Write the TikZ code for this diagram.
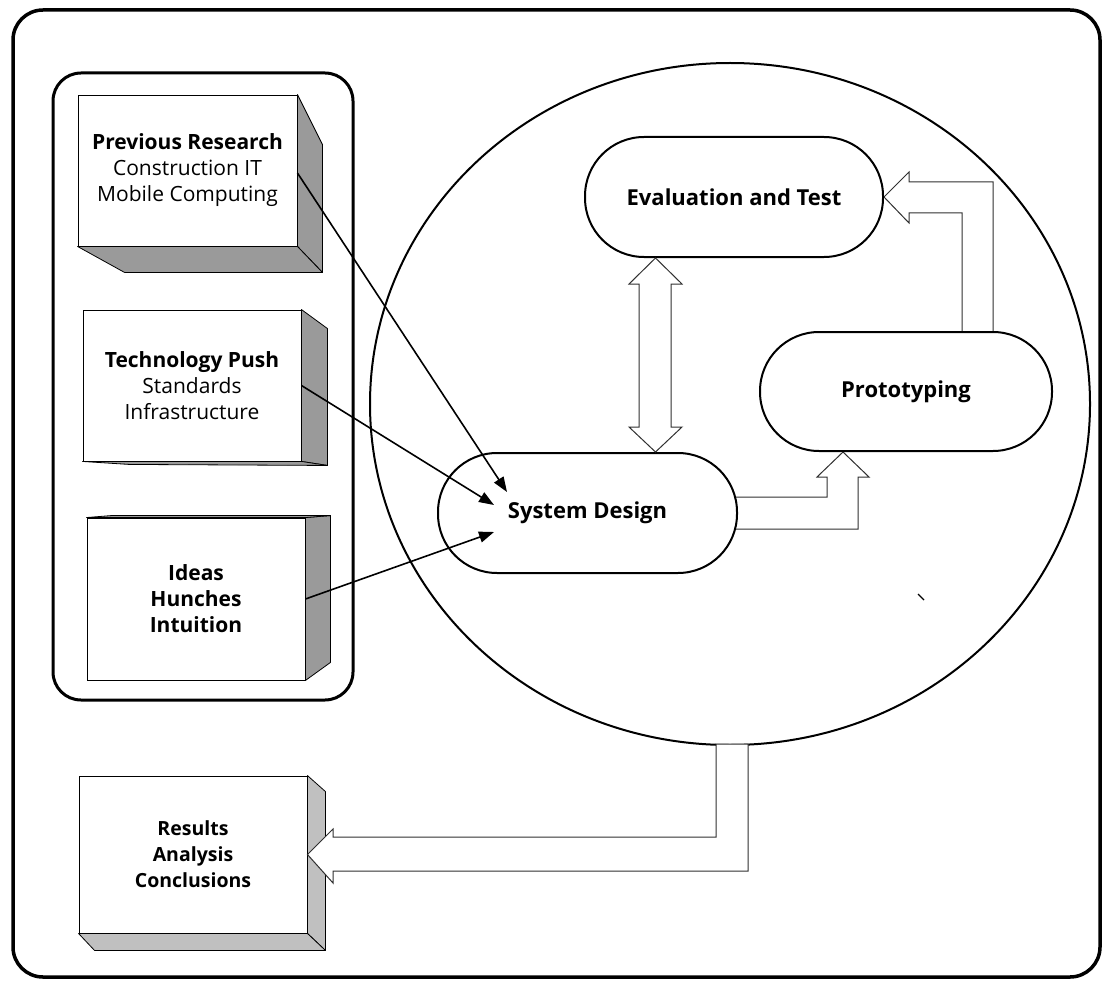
\documentclass[tikz,border=0pt]{standalone}
\usepackage{fontspec}
\setmainfont{Open Sans}
\usetikzlibrary{arrows.meta,calc,shapes.geometric}
\definecolor{sidegray}{HTML}{9A9A9A}
\definecolor{lightside}{HTML}{C0C0C0}
\definecolor{hollowline}{HTML}{303030}
\pgfdeclarelayer{background}
\pgfsetlayers{background,main}

\begin{document}
\begin{tikzpicture}[x=1pt,y=-1pt,
  face/.style={draw=black,line width=0.9pt,fill=white,inner sep=0pt,align=center,
    font=\fontsize{21}{26}\selectfont},
  side/.style={draw=black,line width=0.8pt,fill=sidegray,line join=round},
  stage/.style={draw=black,line width=2pt,fill=white,rounded corners=59pt,inner sep=0pt,
    font=\bfseries\fontsize{22}{26}\selectfont},
  hollow/.style={draw=hollowline,line width=1pt,fill=white,line join=miter},
  feed/.style={draw=black,line width=1.6pt,-{Triangle[length=15pt,width=11pt]}},
]
\useasboundingbox (0,0) rectangle (1107,984);

% outer frame and the panel holding the inputs
\draw[line width=3.5pt,rounded corners=30pt] (13,10) rectangle (1100,977);
\draw[line width=3pt,rounded corners=28pt] (53,73) rectangle (353,700);

% the development cycle
\node[draw,ellipse,line width=2pt,minimum width=720pt,minimum height=682pt,inner sep=0pt] (cyc) at (730,404) {};

% input boxes (front faces with shaded sides)
\node[face,minimum width=219pt,minimum height=151pt] (pr) at (187.5,170.5)
  {\textbf{Previous Research}\\Construction IT\\Mobile Computing};
\draw[side] (pr.north east) -- ++(25,50) -- ($(pr.south east)+(25,26)$) -- (pr.south east) -- cycle;
\draw[side] (pr.south west) -- (pr.south east) -- ++(25,26) -- ($(pr.south west)+(47,26)$) -- cycle;

\node[face,minimum width=218pt,minimum height=151pt] (te) at (192,385.5)
  {\textbf{Technology Push}\\Standards\\Infrastructure};
\draw[side] (te.north east) -- ++(26,19) -- ($(te.south east)+(26,4)$) -- (te.south east) -- cycle;
\draw[side] (te.south west) -- (te.south east) -- ++(26,4) -- ($(te.south west)+(47,3)$) -- cycle;

\node[face,minimum width=218pt,minimum height=162pt] (id) at (196,599)
  {\textbf{Ideas}\\\textbf{Hunches}\\\textbf{Intuition}};
\draw[side] (id.north east) -- ++(25,-2) -- ($(id.south east)+(25,-18)$) -- (id.south east) -- cycle;
\draw[side] (id.north west) -- (id.north east) -- ++(25,-2) -- ($(id.north west)+(25,-2)$) -- cycle;

% outcome box
\node[face,minimum width=228pt,minimum height=157pt,font=\fontsize{19.5}{26}\selectfont] (res) at (193,854.5)
  {\textbf{Results}\\\textbf{Analysis}\\\textbf{Conclusions}};
\draw[side,fill=lightside] (res.north east) -- ++(18,16) -- ($(res.south east)+(18,17)$) -- (res.south east) -- cycle;
\draw[side,fill=lightside] (res.south west) -- (res.south east) -- ++(18,17) -- ($(res.south west)+(16,17)$) -- cycle;

% stages of the cycle
\node[stage,minimum width=298pt,minimum height=120pt] (ev) at (734,197) {Evaluation and Test};
\node[stage,minimum width=292pt,minimum height=119pt] (pt) at (906,391.5) {Prototyping};
\node[stage,minimum width=299pt,minimum height=120pt] (sd) at (587.5,513) {System Design};

% hollow block arrows
\coordinate (dx) at (655.5,0);
\coordinate (upx) at (843,0);
\path[hollow] (ev.south -| dx) -- (682,284) -- (671,284) -- (671,427) -- (682,427)
  -- (sd.north -| dx) -- (629,427) -- (639,427) -- (639,284) -- (629,284) -- cycle;
\path[hollow] (716,744) -- (716,837) -- (333,837) -- (333,829) -- (res.east)
  -- (333,883) -- (333,871) -- (748,871) -- (748,744) -- cycle;
\begin{pgfonlayer}{background}
  \path[hollow] (720,497) -- (827,497) -- (827,477) -- (817,477) -- (upx |- pt.south)
    -- (869,477) -- (858,477) -- (858,529) -- (720,529) -- cycle;
  \path[hollow] (962,350) -- (962,213) -- (909,213) -- (909,223) -- (ev.east)
    -- (909,172) -- (909,182) -- (993,182) -- (993,350) -- cycle;
\end{pgfonlayer}

% inputs feeding the design
\draw[feed] ($(pr.east)+(0,2.5)$) -- ($(sd.center)+(-80.5,-21)$);
\draw[feed] (te.east) -- ($(sd.center)+(-93.5,-8)$);
\draw[feed] (id.east) -- ($(sd.center)+(-93.5,19)$);

% small stray stroke
\draw[line width=1.3pt] (918,594) -- (924,600);
\end{tikzpicture}
\end{document}
